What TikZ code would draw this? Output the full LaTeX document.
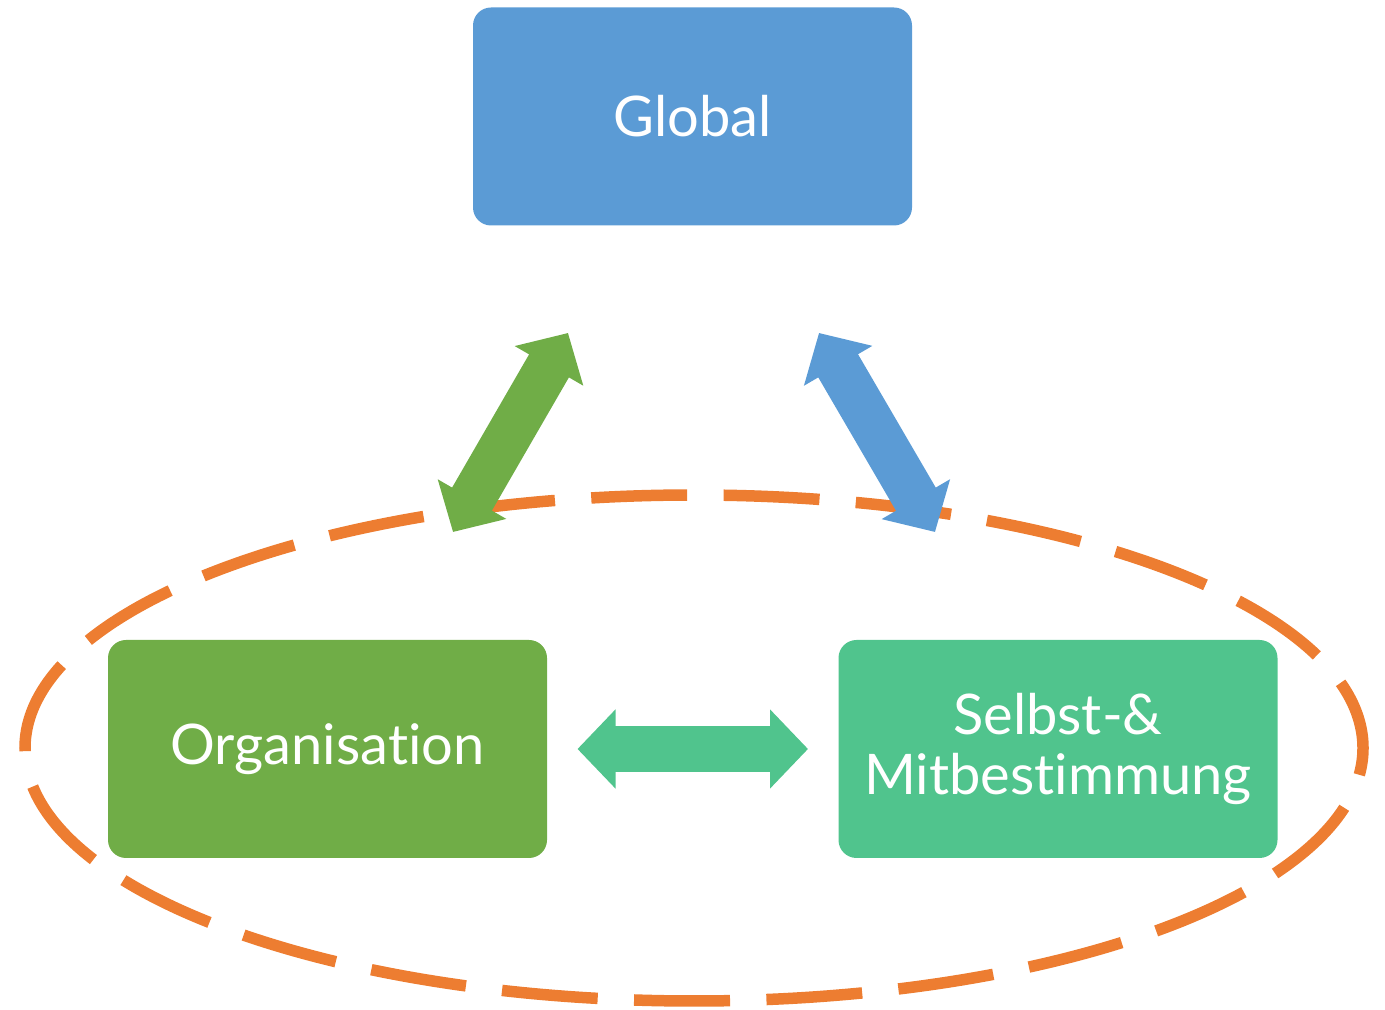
\documentclass[tikz,border=0pt]{standalone}
\usepackage{fontspec}
\setmainfont{Lato}[RawFeature={-liga;-dlig;-clig}]
\usetikzlibrary{arrows.meta}
\definecolor{globalblue}{HTML}{5B9BD5}
\definecolor{orggreen}{HTML}{70AD47}
\definecolor{selbstgreen}{HTML}{50C48D}
\definecolor{ringorange}{HTML}{ED7D31}
\begin{document}
\begin{tikzpicture}[x=50pt, y=50pt,
    every node/.style={inner sep=0pt, text=white, font=\fontsize{28pt}{30pt}\selectfont},
    box/.style={rounded corners=9pt, minimum width=219.5pt, minimum height=109pt, align=center},
    duplex/.style={line width=23pt, {Triangle[width=38.5pt,length=19pt]}-{Triangle[width=38.5pt,length=19pt]}}]
          \useasboundingbox (0,0) rectangle (13.85,10.10);
          \draw[ringorange, line width=5.75pt, dash pattern=on 48pt off 18.2pt, dash phase=13pt] (6.94,2.62) ellipse [x radius=6.69, y radius=2.53];
          \node [box,fill=globalblue] (global) at (6.925,8.935) {Global};
          \node [box,fill=orggreen] (org) at (3.275,2.61) {Organisation};
          \node [box,fill=selbstgreen] (selbst) at (10.58,2.61) {Selbst-\&\\Mitbestimmung};
          \coordinate (gA) at (4.53,4.78);
          \coordinate (gB) at (5.68,6.77);
          \coordinate (bA) at (9.35,4.78);
          \coordinate (bB) at (8.19,6.77);
          \coordinate (tA) at (5.775,2.61);
          \coordinate (tB) at (8.08,2.61);
\draw[duplex, orggreen] (gA) -- (gB);
\draw[duplex, globalblue] (bA) -- (bB);
\draw[duplex, selbstgreen] (tA) -- (tB);

        \end{tikzpicture}
\end{document}
